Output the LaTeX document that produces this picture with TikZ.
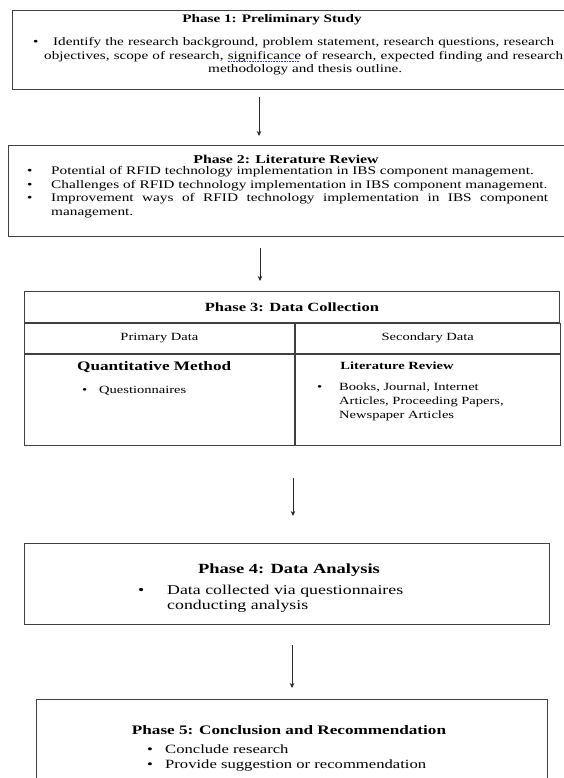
\documentclass[tikz,border=0pt]{standalone}
\usepackage{fontspec}
\setmainfont{Liberation Serif}[FakeStretch=1.32]
\usetikzlibrary{arrows.meta,positioning}

\newcommand{\itembul}{\makebox[24pt][l]{\textbullet}}
\newsavebox{\spellbox}
\newcommand{\spellmark}[1]{\sbox{\spellbox}{#1}\rlap{\raisebox{-2.6pt}{\textcolor{blue!80}{\hbox to \wd\spellbox{\leaders\hbox{\rule{1.1pt}{0.5pt}\hspace{0.5pt}}\hfill}}}}#1}

\begin{document}
\begin{tikzpicture}[
    x=1pt, y=-1pt,
    >={Stealth[length=5pt,width=4.5pt]},
    phase/.style={draw=black!75, line width=0.9pt, anchor=north west, inner sep=0pt},
    cell/.style={draw=black!75, line width=0.8pt, anchor=north west, inner sep=0pt, font=\fontsize{11}{13}\selectfont},
    title/.style={font=\bfseries\fontsize{11.5}{13}\selectfont, inner sep=0pt},
    body/.style={font=\fontsize{11.5}{13.8}\selectfont, align=left, anchor=north west, inner sep=0pt},
    flow/.style={->, line width=0.8pt, draw=black!85}
]
\useasboundingbox (0,0) rectangle (563,778);

% phase 1
\node[phase, minimum width=575pt, minimum height=79pt] (p1) at (12,10) {};
\node[title] (t1) at (272,20) {Phase 1: Preliminary Study};
\node[body] (b1) at (33,37) {%
    \makebox[20pt][l]{\textbullet}\makebox[501pt][s]{Identify the research background, problem statement, research questions, research}\\
    \hspace*{11pt}\makebox[519pt][s]{objectives, scope of research, \spellmark{significance} of research, expected finding and research}\\
    \hspace*{175pt}methodology and thesis outline.};

% phase 2
\node[phase, minimum width=580pt, minimum height=91pt] (p2) at (8,145) {};
\node[title, font=\bfseries\fontsize{12}{14}\selectfont] (t2) at (286,159) {Phase 2: Literature Review};
\node[body, font=\fontsize{11.6}{13.7}\selectfont] (b2) at (27,166) {%
    \itembul Potential of RFID technology implementation in IBS component management.\\
    \itembul Challenges of RFID technology implementation in IBS component management.\\
    \itembul\makebox[497pt][s]{Improvement ways of RFID technology implementation in IBS component}\\
    \hspace*{24pt}management.};

% phase 3 table
\node[cell, minimum width=535pt, minimum height=31pt] (hdr) at (24,291) {};
\node[title, font=\bfseries\fontsize{12.5}{14}\selectfont] (t3) at (hdr.center) {Phase 3: Data Collection};
\node[cell, minimum width=270pt, minimum height=30pt] (prim) at (hdr.south west) {Primary Data};
\node[cell, minimum width=265pt, minimum height=30pt] (sec) at (prim.north east) {Secondary Data};
\node[cell, minimum width=270pt, minimum height=91pt] (quan) at (prim.south west) {};
\node[cell, minimum width=265pt, minimum height=91pt] (lit) at (sec.south west) {};
\node[title, font=\bfseries\fontsize{13}{15}\selectfont, anchor=west] (tq) at (77,367) {Quantitative Method};
\node[body, font=\fontsize{11}{13.8}\selectfont] (bq) at (82,386) {\makebox[17pt][l]{\textbullet}Questionnaires};
\node[title, font=\bfseries\fontsize{11}{13}\selectfont] (tl) at (397,366) {Literature Review};
\node[body, font=\fontsize{11}{13.8}\selectfont] (bl) at (317,383) {%
    \makebox[22pt][l]{\textbullet}Books, Journal, Internet\\
    \hspace*{22pt}Articles, Proceeding Papers,\\
    \hspace*{22pt}Newspaper Articles};

% phase 4
\node[phase, minimum width=525pt, minimum height=81pt] (p4) at (24,543) {};
\node[title, font=\bfseries\fontsize{14}{15}\selectfont] (t4) at (289,570) {Phase 4: Data Analysis};
\node[body, font=\fontsize{13.5}{15}\selectfont] (b4) at (138,585) {%
    \makebox[29pt][l]{\textbullet}Data collected via questionnaires\\
    \hspace*{29pt}conducting analysis};

% phase 5
\node[phase, minimum width=511pt, minimum height=95pt] (p5) at (36,699) {};
\node[title, font=\bfseries\fontsize{13}{14}\selectfont] (t5) at (289,730) {Phase 5: Conclusion and Recommendation};
\node[body, font=\fontsize{12.6}{14.5}\selectfont] (b5) at (147,745) {%
    \makebox[18pt][l]{\textbullet}Conclude research\\
    \makebox[18pt][l]{\textbullet}Provide suggestion or recommendation};

% arrows between phases
\coordinate (a1s) at (259,97);  \coordinate (a1e) at (259,136);
\coordinate (a2s) at (260,248); \coordinate (a2e) at (260,281);
\coordinate (a3s) at (293,478); \coordinate (a3e) at (293,516);
\coordinate (a4s) at (292,645); \coordinate (a4e) at (292,688);
\draw[flow] (a1s) -- (a1e);
\draw[flow] (a2s) -- (a2e);
\draw[flow] (a3s) -- (a3e);
\draw[flow] (a4s) -- (a4e);
\end{tikzpicture}
\end{document}
